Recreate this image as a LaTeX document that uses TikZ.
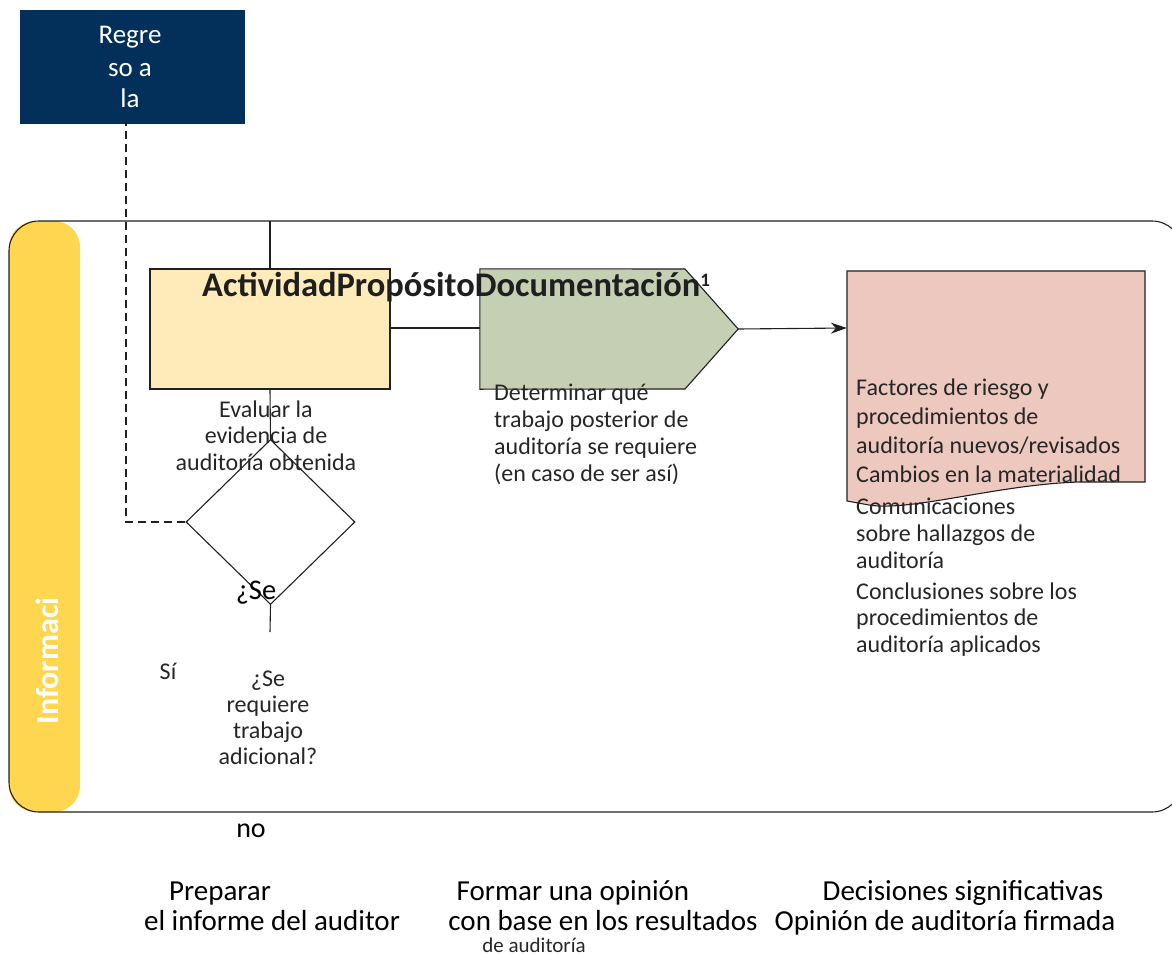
\documentclass[tikz,border=0pt]{standalone}
\usepackage{fontspec}
\setmainfont{Carlito}
\usetikzlibrary{shapes.geometric,arrows.meta}
\definecolor{navy}{HTML}{03305A}
\definecolor{laneyellow}{HTML}{FED650}
\definecolor{actfill}{HTML}{FFEBB9}
\definecolor{propfill}{HTML}{C4CFB4}
\definecolor{docfill}{HTML}{ECC8BE}
\definecolor{txt}{HTML}{262626}
\definecolor{edge}{HTML}{202020}
\tikzset{
  body/.style={text=txt,font=\fontsize{24}{26.5}\selectfont,inner sep=0pt},
  doctext/.style={text=txt,font=\fontsize{24}{29}\selectfont,inner sep=0pt,align=left,anchor=base west},
  bottomtext/.style={text=black,font=\fontsize{29}{30}\selectfont,inner sep=0pt,align=center},
  conn/.style={draw=edge,line width=1.1pt},
}
\begin{document}
\begin{tikzpicture}[x=1pt,y=-1pt]
\useasboundingbox (0,0) rectangle (1172,955);
\clip (0,0) rectangle (1172,955);
% return box
\node (ret) [fill=navy,minimum width=225,minimum height=114,inner sep=0pt] at (132.5,67) {};
\node (rett) [text=white,font=\fontsize{27}{32}\selectfont,align=center,inner sep=0pt,anchor=base] at (130,108) {Regre\\so a\\la};
% swimlane
\fill[laneyellow,rounded corners=26] (9,221) rectangle (80,812);
\draw[draw=edge,line width=1.1pt,rounded corners=30] (9,221) rectangle (1182,812);
\node (lanelbl) [rotate=90,text=white,font=\bfseries\fontsize{32}{34}\selectfont,inner sep=0pt] at (47,661) {Informaci};
% activity box
\node (act) [draw=edge,fill=actfill,line width=1.1pt,minimum width=240,minimum height=120,inner sep=0pt] at (270,329) {};
% proposito pentagon
\node (prop) [minimum width=258,minimum height=120,inner sep=0pt] at (609,329) {};
\draw[draw=edge,fill=propfill,line width=1.1pt] (prop.north west) -- (685,269) -- (prop.east) -- (685,389) -- (prop.south west) -- cycle;
% document
\node (doc) [minimum width=298,minimum height=114,inner sep=0pt] at (996,328) {};
\draw[draw=edge,fill=docfill,line width=1.1pt] (847,271) -- (1145,271) -- (1145,482) -- (1080,482) .. controls (1000,484) and (910,512) .. (869,505) -- (847,501) -- cycle;
% diamond
\node (dia) [diamond,draw=edge,line width=1.1pt,aspect=1.024,minimum width=169,minimum height=165,inner sep=0pt] at (270.5,522) {};
% header
\node (hdr) [anchor=base west,font=\bfseries\fontsize{34.5}{36}\selectfont,text=black!88,inner sep=0pt] at (202,296) {ActividadPropósitoDocumentación\textsuperscript{\bfseries\fontsize{19}{19}\selectfont 1}};
% connectors
\coordinate (lanetop) at (270,221);
\coordinate (diaend) at (270,632);
\coordinate (dashtop) at (126,122);
\draw[conn] (lanetop) -- (act.north);
\draw[conn] (act.east |- 0,328) -- (prop.west |- 0,328);
\draw[conn,-{Stealth[length=16pt,width=11pt]}] (prop.east) -- (doc.west);
\draw[conn] (act.south) -- (dia.north);
\draw[conn] (dia.south) -- (diaend);
\draw[draw=edge,line width=1.1pt,dash pattern=on 8pt off 5pt] (dia.west) -| (dashtop);
% texts
\node (eval) [body,align=center,anchor=base] at (266,470) {Evaluar la\\evidencia de\\auditoría obtenida};
\node (det) [body,align=left,anchor=base west,font=\fontsize{24}{26.7}\selectfont] at (494,481) {Determinar qué\\trabajo posterior de\\auditoría se requiere\\(en caso de ser así)};
\node (d1) [doctext] at (856,482) {Factores de riesgo y\\procedimientos de\\auditoría nuevos/revisados\\Cambios en la materialidad};
\node (d2) [doctext,font=\fontsize{24}{27}\selectfont] at (856,568) {Comunicaciones\\sobre hallazgos de\\auditoría};
\node (d3) [doctext,font=\fontsize{24}{26.5}\selectfont] at (856,652) {Conclusiones sobre los\\procedimientos de\\auditoría aplicados};
\node (se) [text=black,font=\fontsize{28.5}{30}\selectfont,inner sep=0pt,anchor=base] at (256,599) {¿Se};
\node (si) [body,anchor=base] at (168,679) {Sí};
\node (req) [body,align=center,anchor=base,font=\fontsize{24}{26}\selectfont] at (268,764) {¿Se\\requiere\\trabajo\\adicional?};
\node (no) [text=black,font=\fontsize{28}{30}\selectfont,inner sep=0pt,anchor=base] at (251,837) {no};
\node (prep1) [bottomtext,anchor=base] at (220,900) {Preparar};
\node (prep2) [bottomtext,anchor=base] at (272,930) {el informe del auditor};
\node (form1) [bottomtext,anchor=base] at (573,900) {Formar una opinión};
\node (form2) [bottomtext,anchor=base] at (603,930) {con base en los resultados};
\node (form3) [text=txt,font=\fontsize{21}{23}\selectfont,inner sep=0pt,anchor=base] at (534,952) {de auditoría};
\node (dec1) [bottomtext,anchor=base] at (963,900) {Decisiones significativas};
\node (dec2) [bottomtext,anchor=base] at (945,930) {Opinión de auditoría firmada};
\end{tikzpicture}
\end{document}
